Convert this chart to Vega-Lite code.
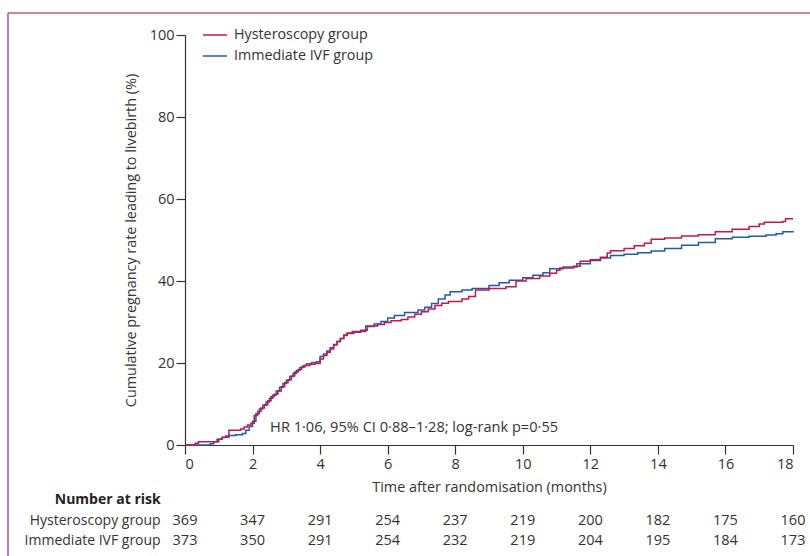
{
  "$schema": "https://vega.github.io/schema/vega-lite/v6.json",
  "width": 608,
  "height": 410,
  "autosize": {"type": "none"},
  "padding": {"left": 185, "top": 35, "right": 17, "bottom": 111},
  "background": "white",
  "config": {
    "view": {"stroke": null},
    "font": "Open Sans",
    "text": {"font": "Open Sans", "fontSize": 14, "color": "#333333"},
    "axis": {
      "grid": false,
      "domainColor": "#333333",
      "tickColor": "#333333",
      "domainWidth": 1.2,
      "tickWidth": 1.2,
      "tickSize": 9,
      "labelFont": "Open Sans",
      "labelFontSize": 14.5,
      "labelColor": "#333333",
      "titleFont": "Open Sans",
      "titleFontSize": 14.4,
      "titleFontWeight": "normal",
      "titleColor": "#333333"
    },
    "legend": {
      "labelFont": "Open Sans",
      "labelFontSize": 14.3,
      "labelColor": "#333333"
    }
  },
  "datasets": {
    "km": [
      {"group": "Hysteroscopy group", "month": 0, "pct": 0},
      {"group": "Hysteroscopy group", "month": 0.3, "pct": 0.4},
      {"group": "Hysteroscopy group", "month": 0.4, "pct": 0.8},
      {"group": "Hysteroscopy group", "month": 1.0, "pct": 1.4},
      {"group": "Hysteroscopy group", "month": 1.1, "pct": 1.8},
      {"group": "Hysteroscopy group", "month": 1.2, "pct": 2.2},
      {"group": "Hysteroscopy group", "month": 1.3, "pct": 3.6},
      {"group": "Hysteroscopy group", "month": 1.65, "pct": 3.9},
      {"group": "Hysteroscopy group", "month": 1.75, "pct": 4.4},
      {"group": "Hysteroscopy group", "month": 1.85, "pct": 4.9},
      {"group": "Hysteroscopy group", "month": 1.95, "pct": 5.3},
      {"group": "Hysteroscopy group", "month": 2.05, "pct": 7.2},
      {"group": "Hysteroscopy group", "month": 2.15, "pct": 8.2},
      {"group": "Hysteroscopy group", "month": 2.25, "pct": 9.0},
      {"group": "Hysteroscopy group", "month": 2.35, "pct": 9.8},
      {"group": "Hysteroscopy group", "month": 2.45, "pct": 10.8},
      {"group": "Hysteroscopy group", "month": 2.55, "pct": 11.8},
      {"group": "Hysteroscopy group", "month": 2.65, "pct": 12.4},
      {"group": "Hysteroscopy group", "month": 2.75, "pct": 13.2},
      {"group": "Hysteroscopy group", "month": 2.85, "pct": 14.2},
      {"group": "Hysteroscopy group", "month": 2.95, "pct": 15.2},
      {"group": "Hysteroscopy group", "month": 3.05, "pct": 15.9},
      {"group": "Hysteroscopy group", "month": 3.15, "pct": 16.8},
      {"group": "Hysteroscopy group", "month": 3.25, "pct": 17.8},
      {"group": "Hysteroscopy group", "month": 3.35, "pct": 18.4},
      {"group": "Hysteroscopy group", "month": 3.45, "pct": 19.0},
      {"group": "Hysteroscopy group", "month": 3.55, "pct": 19.4},
      {"group": "Hysteroscopy group", "month": 3.7, "pct": 19.7},
      {"group": "Hysteroscopy group", "month": 3.85, "pct": 19.9},
      {"group": "Hysteroscopy group", "month": 4.0, "pct": 21.0},
      {"group": "Hysteroscopy group", "month": 4.1, "pct": 21.8},
      {"group": "Hysteroscopy group", "month": 4.2, "pct": 22.6},
      {"group": "Hysteroscopy group", "month": 4.3, "pct": 23.4},
      {"group": "Hysteroscopy group", "month": 4.4, "pct": 24.4},
      {"group": "Hysteroscopy group", "month": 4.5, "pct": 25.2},
      {"group": "Hysteroscopy group", "month": 4.6, "pct": 26.0},
      {"group": "Hysteroscopy group", "month": 4.7, "pct": 26.8},
      {"group": "Hysteroscopy group", "month": 4.8, "pct": 27.3},
      {"group": "Hysteroscopy group", "month": 4.95, "pct": 27.7},
      {"group": "Hysteroscopy group", "month": 5.35, "pct": 29.0},
      {"group": "Hysteroscopy group", "month": 5.7, "pct": 29.4},
      {"group": "Hysteroscopy group", "month": 5.9, "pct": 29.9},
      {"group": "Hysteroscopy group", "month": 6.1, "pct": 30.3},
      {"group": "Hysteroscopy group", "month": 6.4, "pct": 30.6},
      {"group": "Hysteroscopy group", "month": 6.6, "pct": 31.2},
      {"group": "Hysteroscopy group", "month": 6.8, "pct": 31.9},
      {"group": "Hysteroscopy group", "month": 7.0, "pct": 32.5},
      {"group": "Hysteroscopy group", "month": 7.2, "pct": 33.2},
      {"group": "Hysteroscopy group", "month": 7.4, "pct": 34.0},
      {"group": "Hysteroscopy group", "month": 7.6, "pct": 34.6},
      {"group": "Hysteroscopy group", "month": 7.8, "pct": 35.0},
      {"group": "Hysteroscopy group", "month": 8.2, "pct": 35.6},
      {"group": "Hysteroscopy group", "month": 8.4, "pct": 36.2},
      {"group": "Hysteroscopy group", "month": 8.6, "pct": 37.8},
      {"group": "Hysteroscopy group", "month": 9.0, "pct": 38.2},
      {"group": "Hysteroscopy group", "month": 9.5, "pct": 38.6},
      {"group": "Hysteroscopy group", "month": 9.8, "pct": 40.0},
      {"group": "Hysteroscopy group", "month": 10.1, "pct": 40.6},
      {"group": "Hysteroscopy group", "month": 10.5, "pct": 41.2},
      {"group": "Hysteroscopy group", "month": 10.8, "pct": 41.9},
      {"group": "Hysteroscopy group", "month": 11.0, "pct": 42.6},
      {"group": "Hysteroscopy group", "month": 11.1, "pct": 43.2},
      {"group": "Hysteroscopy group", "month": 11.5, "pct": 43.6},
      {"group": "Hysteroscopy group", "month": 11.7, "pct": 44.8},
      {"group": "Hysteroscopy group", "month": 12.0, "pct": 45.2},
      {"group": "Hysteroscopy group", "month": 12.3, "pct": 45.8},
      {"group": "Hysteroscopy group", "month": 12.5, "pct": 46.8},
      {"group": "Hysteroscopy group", "month": 12.6, "pct": 47.4},
      {"group": "Hysteroscopy group", "month": 13.0, "pct": 47.9},
      {"group": "Hysteroscopy group", "month": 13.3, "pct": 48.6},
      {"group": "Hysteroscopy group", "month": 13.6, "pct": 49.2},
      {"group": "Hysteroscopy group", "month": 13.8, "pct": 50.2},
      {"group": "Hysteroscopy group", "month": 14.2, "pct": 50.5},
      {"group": "Hysteroscopy group", "month": 14.7, "pct": 51.0},
      {"group": "Hysteroscopy group", "month": 15.2, "pct": 51.3},
      {"group": "Hysteroscopy group", "month": 15.7, "pct": 52.0},
      {"group": "Hysteroscopy group", "month": 16.2, "pct": 52.6},
      {"group": "Hysteroscopy group", "month": 16.7, "pct": 53.3},
      {"group": "Hysteroscopy group", "month": 17.0, "pct": 53.9},
      {"group": "Hysteroscopy group", "month": 17.15, "pct": 54.3},
      {"group": "Hysteroscopy group", "month": 17.7, "pct": 54.5},
      {"group": "Hysteroscopy group", "month": 17.78, "pct": 55.2},
      {"group": "Hysteroscopy group", "month": 18.0, "pct": 55.2},
      {"group": "Immediate IVF group", "month": 0, "pct": 0},
      {"group": "Immediate IVF group", "month": 0.75, "pct": 0.3},
      {"group": "Immediate IVF group", "month": 0.85, "pct": 0.8},
      {"group": "Immediate IVF group", "month": 0.95, "pct": 1.4},
      {"group": "Immediate IVF group", "month": 1.1, "pct": 1.9},
      {"group": "Immediate IVF group", "month": 1.3, "pct": 2.3},
      {"group": "Immediate IVF group", "month": 1.5, "pct": 2.5},
      {"group": "Immediate IVF group", "month": 1.7, "pct": 2.8},
      {"group": "Immediate IVF group", "month": 1.8, "pct": 3.6},
      {"group": "Immediate IVF group", "month": 1.9, "pct": 4.5},
      {"group": "Immediate IVF group", "month": 2.0, "pct": 5.8},
      {"group": "Immediate IVF group", "month": 2.1, "pct": 7.6},
      {"group": "Immediate IVF group", "month": 2.2, "pct": 8.8},
      {"group": "Immediate IVF group", "month": 2.3, "pct": 9.7},
      {"group": "Immediate IVF group", "month": 2.4, "pct": 10.5},
      {"group": "Immediate IVF group", "month": 2.5, "pct": 11.4},
      {"group": "Immediate IVF group", "month": 2.6, "pct": 12.2},
      {"group": "Immediate IVF group", "month": 2.7, "pct": 13.2},
      {"group": "Immediate IVF group", "month": 2.8, "pct": 14.1},
      {"group": "Immediate IVF group", "month": 2.9, "pct": 15.0},
      {"group": "Immediate IVF group", "month": 3.0, "pct": 15.8},
      {"group": "Immediate IVF group", "month": 3.1, "pct": 16.7},
      {"group": "Immediate IVF group", "month": 3.2, "pct": 17.5},
      {"group": "Immediate IVF group", "month": 3.3, "pct": 18.2},
      {"group": "Immediate IVF group", "month": 3.4, "pct": 18.9},
      {"group": "Immediate IVF group", "month": 3.5, "pct": 19.4},
      {"group": "Immediate IVF group", "month": 3.6, "pct": 19.8},
      {"group": "Immediate IVF group", "month": 3.75, "pct": 20.1},
      {"group": "Immediate IVF group", "month": 3.9, "pct": 20.3},
      {"group": "Immediate IVF group", "month": 4.0, "pct": 21.6},
      {"group": "Immediate IVF group", "month": 4.1, "pct": 22.2},
      {"group": "Immediate IVF group", "month": 4.2, "pct": 22.9},
      {"group": "Immediate IVF group", "month": 4.3, "pct": 23.7},
      {"group": "Immediate IVF group", "month": 4.4, "pct": 24.5},
      {"group": "Immediate IVF group", "month": 4.5, "pct": 25.3},
      {"group": "Immediate IVF group", "month": 4.6, "pct": 26.0},
      {"group": "Immediate IVF group", "month": 4.7, "pct": 26.7},
      {"group": "Immediate IVF group", "month": 4.8, "pct": 27.2},
      {"group": "Immediate IVF group", "month": 5.0, "pct": 27.5},
      {"group": "Immediate IVF group", "month": 5.2, "pct": 28.0},
      {"group": "Immediate IVF group", "month": 5.4, "pct": 28.9},
      {"group": "Immediate IVF group", "month": 5.6, "pct": 29.5},
      {"group": "Immediate IVF group", "month": 5.8, "pct": 30.1},
      {"group": "Immediate IVF group", "month": 6.0, "pct": 31.0},
      {"group": "Immediate IVF group", "month": 6.2, "pct": 31.6},
      {"group": "Immediate IVF group", "month": 6.5, "pct": 32.3},
      {"group": "Immediate IVF group", "month": 6.9, "pct": 32.9},
      {"group": "Immediate IVF group", "month": 7.1, "pct": 33.6},
      {"group": "Immediate IVF group", "month": 7.3, "pct": 34.5},
      {"group": "Immediate IVF group", "month": 7.5, "pct": 35.6},
      {"group": "Immediate IVF group", "month": 7.7, "pct": 36.6},
      {"group": "Immediate IVF group", "month": 7.85, "pct": 37.4},
      {"group": "Immediate IVF group", "month": 8.2, "pct": 37.8},
      {"group": "Immediate IVF group", "month": 8.5, "pct": 38.2},
      {"group": "Immediate IVF group", "month": 9.0, "pct": 38.9},
      {"group": "Immediate IVF group", "month": 9.3, "pct": 39.6},
      {"group": "Immediate IVF group", "month": 9.6, "pct": 40.2},
      {"group": "Immediate IVF group", "month": 10.0, "pct": 40.8},
      {"group": "Immediate IVF group", "month": 10.3, "pct": 41.4},
      {"group": "Immediate IVF group", "month": 10.6, "pct": 42.0},
      {"group": "Immediate IVF group", "month": 10.8, "pct": 43.0},
      {"group": "Immediate IVF group", "month": 11.2, "pct": 43.4},
      {"group": "Immediate IVF group", "month": 11.6, "pct": 44.2},
      {"group": "Immediate IVF group", "month": 12.0, "pct": 45.0},
      {"group": "Immediate IVF group", "month": 12.3, "pct": 45.6},
      {"group": "Immediate IVF group", "month": 12.6, "pct": 46.2},
      {"group": "Immediate IVF group", "month": 13.0, "pct": 46.5},
      {"group": "Immediate IVF group", "month": 13.4, "pct": 46.9},
      {"group": "Immediate IVF group", "month": 13.8, "pct": 47.3},
      {"group": "Immediate IVF group", "month": 14.2, "pct": 47.9},
      {"group": "Immediate IVF group", "month": 14.7, "pct": 48.7},
      {"group": "Immediate IVF group", "month": 15.2, "pct": 49.4},
      {"group": "Immediate IVF group", "month": 15.7, "pct": 50.3},
      {"group": "Immediate IVF group", "month": 16.2, "pct": 50.7},
      {"group": "Immediate IVF group", "month": 16.7, "pct": 50.9},
      {"group": "Immediate IVF group", "month": 17.2, "pct": 51.2},
      {"group": "Immediate IVF group", "month": 17.5, "pct": 51.5},
      {"group": "Immediate IVF group", "month": 17.7, "pct": 52.0},
      {"group": "Immediate IVF group", "month": 18.0, "pct": 52.2}
    ],
    "risk": [
      {"group": "Hysteroscopy group", "month": 0, "n": 369},
      {"group": "Hysteroscopy group", "month": 2, "n": 347},
      {"group": "Hysteroscopy group", "month": 4, "n": 291},
      {"group": "Hysteroscopy group", "month": 6, "n": 254},
      {"group": "Hysteroscopy group", "month": 8, "n": 237},
      {"group": "Hysteroscopy group", "month": 10, "n": 219},
      {"group": "Hysteroscopy group", "month": 12, "n": 200},
      {"group": "Hysteroscopy group", "month": 14, "n": 182},
      {"group": "Hysteroscopy group", "month": 16, "n": 175},
      {"group": "Hysteroscopy group", "month": 18, "n": 160},
      {"group": "Immediate IVF group", "month": 0, "n": 373},
      {"group": "Immediate IVF group", "month": 2, "n": 350},
      {"group": "Immediate IVF group", "month": 4, "n": 291},
      {"group": "Immediate IVF group", "month": 6, "n": 254},
      {"group": "Immediate IVF group", "month": 8, "n": 232},
      {"group": "Immediate IVF group", "month": 10, "n": 219},
      {"group": "Immediate IVF group", "month": 12, "n": 204},
      {"group": "Immediate IVF group", "month": 14, "n": 195},
      {"group": "Immediate IVF group", "month": 16, "n": 184},
      {"group": "Immediate IVF group", "month": 18, "n": 173}
    ],
    "one": [{"note": "HR 1·06, 95% CI 0·88–1·28; log-rank p=0·55", "head": "Number at risk"}]
  },
  "data": {"name": "km"},
  "layer": [
    {
      "data": {"name": "one"},
      "mark": {"type": "rule", "color": "#c65a7c", "strokeWidth": 1.6},
      "encoding": {
        "x": {"datum": -5.24, "type": "quantitative", "scale": {"domain": [0, 18], "nice": false, "zero": false}},
        "x2": {"datum": 18.6},
        "y": {"datum": 105.37, "type": "quantitative", "scale": {"domain": [0, 100], "nice": false}}
      }
    },
    {
      "data": {"name": "one"},
      "mark": {"type": "rule", "color": "#c65a7c", "strokeWidth": 1.6},
      "encoding": {
        "x": {"datum": -5.24, "type": "quantitative"},
        "y": {"datum": 105.37, "type": "quantitative"},
        "y2": {"datum": -28}
      }
    },
    {
      "transform": [{"filter": "datum.group === 'Immediate IVF group'"}],
      "mark": {"type": "line", "interpolate": "step-after", "strokeWidth": 1.5},
      "encoding": {
        "x": {
          "field": "month", "type": "quantitative",
          "scale": {"domain": [0, 18], "nice": false, "zero": false},
          "axis": {"values": [0, 2, 4, 6, 8, 10, 12, 14, 16, 18], "title": "Time after randomisation (months)", "titlePadding": 10, "labelPadding": 3}
        },
        "y": {
          "field": "pct", "type": "quantitative",
          "scale": {"domain": [0, 100], "nice": false},
          "axis": {"values": [0, 20, 40, 60, 80, 100], "title": "Cumulative pregnancy rate leading to livebirth (%)", "titlePadding": 11, "labelPadding": 2}
        },
        "color": {
          "field": "group", "type": "nominal",
          "scale": {"domain": ["Hysteroscopy group", "Immediate IVF group"], "range": ["#c2184c", "#1f5ca6"]},
          "legend": {
            "title": null, "orient": "none", "legendX": 17, "legendY": -13,
            "symbolType": "stroke", "symbolSize": 576, "symbolStrokeWidth": 1.5,
            "labelOffset": 6, "rowPadding": 0, "padding": 0
          }
        }
      }
    },
    {
      "transform": [{"filter": "datum.group === 'Hysteroscopy group'"}],
      "mark": {"type": "line", "interpolate": "step-after", "strokeWidth": 1.5},
      "encoding": {
        "x": {"field": "month", "type": "quantitative"},
        "y": {"field": "pct", "type": "quantitative"},
        "color": {"field": "group", "type": "nominal"}
      }
    },
    {
      "data": {"name": "one"},
      "mark": {"type": "text", "align": "left", "baseline": "middle", "fontSize": 14.6},
      "encoding": {
        "x": {"datum": 2.52, "type": "quantitative"},
        "y": {"datum": 4.1, "type": "quantitative"},
        "text": {"field": "note", "type": "nominal"}
      }
    },
    {
      "data": {"name": "one"},
      "mark": {"type": "text", "align": "right", "baseline": "middle", "fontWeight": "bold", "color": "#222222"},
      "encoding": {
        "x": {"datum": -0.72, "type": "quantitative"},
        "y": {"datum": -13.4, "type": "quantitative"},
        "text": {"field": "head", "type": "nominal"}
      }
    },
    {
      "data": {"name": "risk"},
      "transform": [{"filter": "datum.group === 'Hysteroscopy group'"}],
      "layer": [
        {
          "mark": {"type": "text", "align": "center", "baseline": "middle", "fontSize": 14.5},
          "encoding": {
            "x": {"field": "month", "type": "quantitative"},
            "y": {"datum": -18.5, "type": "quantitative"},
            "text": {"field": "n", "type": "quantitative"}
          }
        },
        {
          "transform": [{"filter": "datum.month === 0"}],
          "mark": {"type": "text", "align": "right", "baseline": "middle"},
          "encoding": {
            "x": {"datum": -0.72, "type": "quantitative"},
            "y": {"datum": -18.5, "type": "quantitative"},
            "text": {"field": "group", "type": "nominal"}
          }
        }
      ]
    },
    {
      "data": {"name": "risk"},
      "transform": [{"filter": "datum.group === 'Immediate IVF group'"}],
      "layer": [
        {
          "mark": {"type": "text", "align": "center", "baseline": "middle", "fontSize": 14.5},
          "encoding": {
            "x": {"field": "month", "type": "quantitative"},
            "y": {"datum": -23.4, "type": "quantitative"},
            "text": {"field": "n", "type": "quantitative"}
          }
        },
        {
          "transform": [{"filter": "datum.month === 0"}],
          "mark": {"type": "text", "align": "right", "baseline": "middle"},
          "encoding": {
            "x": {"datum": -0.72, "type": "quantitative"},
            "y": {"datum": -23.4, "type": "quantitative"},
            "text": {"field": "group", "type": "nominal"}
          }
        }
      ]
    }
  ]
}
